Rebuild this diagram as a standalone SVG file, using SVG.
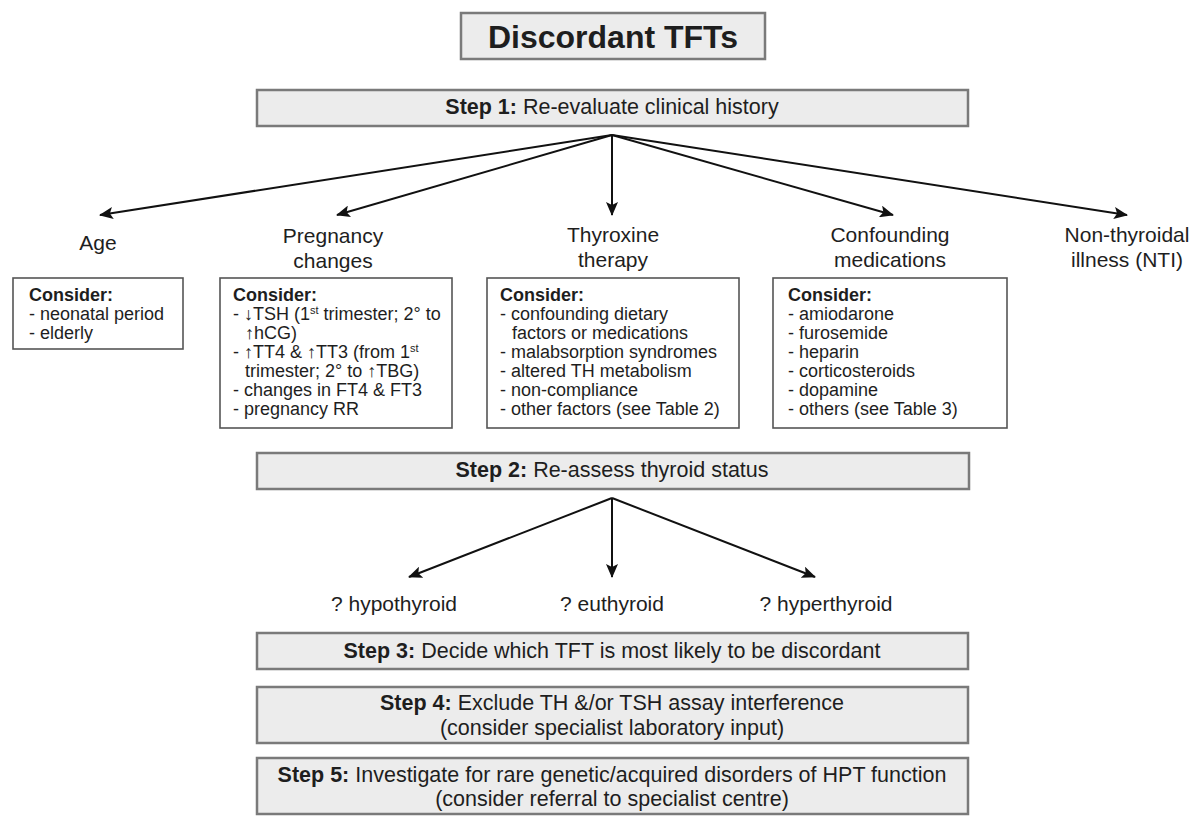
<svg xmlns="http://www.w3.org/2000/svg" width="1194" height="816" viewBox="0 0 1194 816">
<defs>
<style>
text{font-family:"Liberation Sans",Arial,Helvetica,sans-serif;fill:#1e1e1e}
.title{font-size:32px;font-weight:bold;text-anchor:middle}
.step{font-size:21.5px;text-anchor:middle}
.b{font-weight:bold}
.lbl{font-size:21px;text-anchor:middle}
.body{font-size:18px}
.sup{font-size:11px}
.stepbox{fill:#ececec;stroke:#7a7a7a;stroke-width:2.5}
.cbox{fill:#ffffff;stroke:#555555;stroke-width:1.6}
.conn line{stroke:#111;stroke-width:2;marker-end:url(#ah)}
</style>
<marker id="ah" markerUnits="userSpaceOnUse" markerWidth="14" markerHeight="12" refX="13" refY="6" orient="auto">
<path d="M0,0 L14,6 L0,12 L3,6 z" fill="#111"/>
</marker>
</defs>
<rect width="1194" height="816" fill="#ffffff"/>

<g id="title">
<rect class="stepbox" x="461" y="13" width="304" height="46"/>
<text class="title" x="613" y="48">Discordant TFTs</text>
</g>

<g id="step1">
<rect class="stepbox" x="257" y="90" width="711" height="36"/>
<text class="step" x="612" y="114"><tspan class="b">Step 1:</tspan> Re-evaluate clinical history</text>
</g>

<g id="conn" class="conn">
<line x1="612" y1="135" x2="100" y2="215"/>
<line x1="612" y1="135" x2="337" y2="215"/>
<line x1="612" y1="135" x2="612" y2="215"/>
<line x1="612" y1="135" x2="893" y2="215"/>
<line x1="612" y1="135" x2="1127" y2="215"/>
<line x1="612" y1="498" x2="409" y2="577"/>
<line x1="612" y1="498" x2="612" y2="577"/>
<line x1="612" y1="498" x2="815" y2="577"/>
</g>

<g id="age">
<text class="lbl" x="98" y="250">Age</text>
<rect class="cbox" x="13" y="278" width="170" height="71"/>
<text class="body" x="29" y="301"><tspan class="b">Consider:</tspan></text>
<text class="body" x="29" y="320">- neonatal period</text>
<text class="body" x="29" y="339">- elderly</text>
</g>

<g id="pregnancy">
<text class="lbl" x="333" y="243">Pregnancy</text>
<text class="lbl" x="333" y="268">changes</text>
<rect class="cbox" x="220" y="278" width="232" height="150"/>
<text class="body" x="233" y="301"><tspan class="b">Consider:</tspan></text>
<text class="body" x="233" y="320">- ↓TSH (1<tspan class="sup" dy="-6">st</tspan><tspan dy="6"> trimester; 2° to</tspan></text>
<text class="body" x="245" y="339">↑hCG)</text>
<text class="body" x="233" y="358">- ↑TT4 &amp; ↑TT3 (from 1<tspan class="sup" dy="-6">st</tspan></text>
<text class="body" x="245" y="377">trimester; 2° to ↑TBG)</text>
<text class="body" x="233" y="396">- changes in FT4 &amp; FT3</text>
<text class="body" x="233" y="415">- pregnancy RR</text>
</g>

<g id="thyroxine">
<text class="lbl" x="613" y="242">Thyroxine</text>
<text class="lbl" x="613" y="267">therapy</text>
<rect class="cbox" x="487" y="278" width="252" height="150"/>
<text class="body" x="500" y="301"><tspan class="b">Consider:</tspan></text>
<text class="body" x="500" y="320">- confounding dietary</text>
<text class="body" x="512" y="339">factors or medications</text>
<text class="body" x="500" y="358">- malabsorption syndromes</text>
<text class="body" x="500" y="377">- altered TH metabolism</text>
<text class="body" x="500" y="396">- non-compliance</text>
<text class="body" x="500" y="415">- other factors (see Table 2)</text>
</g>

<g id="confounding">
<text class="lbl" x="890" y="242">Confounding</text>
<text class="lbl" x="890" y="267">medications</text>
<rect class="cbox" x="773" y="278" width="234" height="150"/>
<text class="body" x="788" y="301"><tspan class="b">Consider:</tspan></text>
<text class="body" x="788" y="320">- amiodarone</text>
<text class="body" x="788" y="339">- furosemide</text>
<text class="body" x="788" y="358">- heparin</text>
<text class="body" x="788" y="377">- corticosteroids</text>
<text class="body" x="788" y="396">- dopamine</text>
<text class="body" x="788" y="415">- others (see Table 3)</text>
</g>

<g id="nti">
<text class="lbl" x="1127" y="242">Non-thyroidal</text>
<text class="lbl" x="1127" y="267">illness (NTI)</text>
</g>

<g id="step2">
<rect class="stepbox" x="257" y="453" width="712" height="36"/>
<text class="step" x="612" y="477"><tspan class="b">Step 2:</tspan> Re-assess thyroid status</text>
</g>

<g id="hypo"><text class="lbl" x="394" y="611">? hypothyroid</text></g>
<g id="eu"><text class="lbl" x="612" y="611">? euthyroid</text></g>
<g id="hyper"><text class="lbl" x="826" y="611">? hyperthyroid</text></g>

<g id="step3">
<rect class="stepbox" x="257" y="633" width="711" height="36"/>
<text class="step" x="612" y="658"><tspan class="b">Step 3:</tspan> Decide which TFT is most likely to be discordant</text>
</g>

<g id="step4">
<rect class="stepbox" x="257" y="687" width="711" height="56"/>
<text class="step" x="612" y="710"><tspan class="b">Step 4:</tspan> Exclude TH &amp;/or TSH assay interference</text>
<text class="step" x="612" y="735">(consider specialist laboratory input)</text>
</g>

<g id="step5">
<rect class="stepbox" x="257" y="758" width="711" height="56"/>
<text class="step" x="612" y="782"><tspan class="b">Step 5:</tspan> Investigate for rare genetic/acquired disorders of HPT function</text>
<text class="step" x="612" y="806">(consider referral to specialist centre)</text>
</g>
</svg>
